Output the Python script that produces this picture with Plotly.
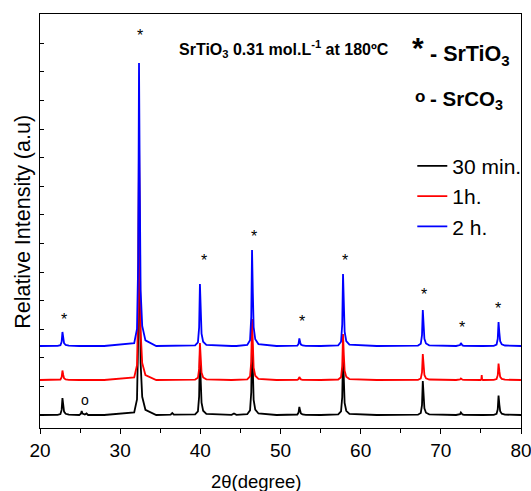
import plotly.graph_objects as go

# 2-theta sampling positions (degrees)
two_theta = [
    20.0, 21.0,
    22.2, 22.55, 22.7, 22.8, 22.9, 23.0, 23.2, 23.6,
    24.9, 25.1, 25.2, 25.3, 25.6, 25.8, 26.0,
    28.0,
    31.75, 32.1, 32.25, 32.35, 32.45, 32.55, 32.75, 33.15,
    34.5, 36.3, 36.5, 36.7,
    39.35, 39.7, 39.85, 39.95, 40.05, 40.15, 40.35, 40.75,
    43.9, 44.2, 44.5,
    45.85, 46.2, 46.35, 46.45, 46.55, 46.65, 46.85, 47.25,
    49.5,
    51.75, 52.1, 52.25, 52.35, 52.45, 52.55, 52.75, 53.15,
    55.0,
    57.2, 57.55, 57.7, 57.8, 57.9, 58.0, 58.2, 58.6,
    62.0,
    67.15, 67.5, 67.65, 67.75, 67.85, 67.95, 68.15, 68.55,
    71.9, 72.25, 72.4, 72.5, 72.6, 72.7, 72.9, 73.3,
    74.95, 75.05, 75.1, 75.15, 75.25,
    76.6, 76.95, 77.1, 77.2, 77.3, 77.4, 77.6, 78.0,
    80.0,
]

# intensities (a.u.), one list per sample
int_30min = [
    0, 0,
    2, 10, 51, 170, 94, 34, 12, 3,
    0, 12, 40, 15, 5, 15, 0,
    0,
    26, 156, 780, 2600, 1430, 520, 182, 52,
    0, 3, 20, 4,
    6, 37, 186, 620, 340, 124, 43, 12,
    2, 15, 2,
    8, 46, 228, 760, 418, 152, 53, 15,
    0,
    1, 5, 24, 80, 44, 16, 6, 2,
    0,
    6, 36, 180, 600, 330, 120, 42, 12,
    0,
    3, 20, 99, 340, 182, 66, 23, 7,
    0, 2, 8, 25, 14, 5, 2, 1,
    0, 0, 0, 0, 0,
    2, 11, 57, 195, 105, 38, 13, 4,
    0,
]
int_1h = [
    0, 0,
    1, 5, 27, 95, 50, 18, 6, 2,
    0, 0, 0, 0, 0, 0, 0,
    0,
    25, 147, 735, 2450, 1350, 490, 170, 49,
    0, 0, 0, 0,
    4, 22, 111, 370, 204, 74, 26, 7,
    0, 0, 0,
    6, 37, 183, 610, 335, 122, 43, 12,
    0,
    0, 2, 9, 30, 16, 6, 2, 1,
    0,
    5, 28, 138, 460, 253, 92, 32, 9,
    0,
    2, 15, 75, 260, 138, 50, 17, 5,
    0, 1, 5, 15, 8, 3, 1, 0,
    0, 5, 50, 5, 0,
    2, 10, 48, 165, 88, 32, 11, 3,
    0,
]
int_2h = [
    0, 0,
    1, 8, 42, 140, 77, 28, 10, 3,
    0, 0, 0, 0, 0, 0, 0,
    0,
    28, 170, 850, 2830, 1550, 560, 200, 56,
    0, 0, 0, 0,
    6, 37, 186, 620, 340, 124, 43, 12,
    0, 0, 0,
    10, 58, 290, 960, 530, 190, 67, 19,
    0,
    1, 4, 21, 75, 38, 14, 5, 1,
    0,
    7, 43, 216, 720, 400, 144, 50, 14,
    0,
    4, 22, 108, 360, 200, 72, 25, 7,
    0, 2, 9, 30, 16, 6, 2, 1,
    0, 0, 0, 0, 0,
    2, 14, 72, 240, 132, 48, 17, 5,
    0,
]

series_names = ["30 min.", "1h.", "2 h."]
series_offsets = [130, 480, 820]
series_colors = ["#000000", "#ff0000", "#0000ff"]

# peak markers
star_2theta = [22.96, 32.53, 40.5, 46.65, 52.68, 58.08, 67.93, 72.7, 77.16]
star_height = [1087, 3930, 1680, 1920, 1063, 1680, 1340, 1007, 1197]
srco3_2theta = [25.66]
srco3_height = [285]

FONT = "Liberation Sans, Arial, sans-serif"

fig = go.Figure()
for name, ys, off, col in zip(series_names, [int_30min, int_1h, int_2h],
                              series_offsets, series_colors):
    fig.add_trace(go.Scatter(
        x=two_theta, y=[v + off for v in ys], mode="lines", name=name,
        line=dict(color=col, width=1.8),
    ))

annotations = []
for xs, ys in zip(star_2theta, star_height):
    annotations.append(dict(x=xs, y=ys, xref="x", yref="y", text="*",
                            showarrow=False, font=dict(size=16, color="black", family=FONT)))
for xs, ys in zip(srco3_2theta, srco3_height):
    annotations.append(dict(x=xs, y=ys, xref="x", yref="y", text="o",
                            showarrow=False, font=dict(size=14, color="black", family=FONT)))

annotations += [
    dict(x=0.285, y=0.915, xref="paper", yref="paper", xanchor="left", yanchor="middle",
         text="<b>SrTiO<sub>3</sub> 0.31 mol.L<sup>-1</sup> at 180ºC</b>",
         showarrow=False, font=dict(size=16, color="black", family=FONT)),
    dict(x=0.786, y=0.92, xref="paper", yref="paper", xanchor="center", yanchor="middle",
         text="<b>*</b>", showarrow=False, font=dict(size=30, color="black", family=FONT)),
    dict(x=0.807, y=0.899, xref="paper", yref="paper", xanchor="left", yanchor="middle",
         text="<b>- SrTiO<sub>3</sub></b>", showarrow=False,
         font=dict(size=21.5, color="black", family=FONT)),
    dict(x=0.79, y=0.80, xref="paper", yref="paper", xanchor="center", yanchor="middle",
         text="<b>o</b>", showarrow=False, font=dict(size=17, color="black", family=FONT)),
    dict(x=0.807, y=0.792, xref="paper", yref="paper", xanchor="left", yanchor="middle",
         text="<b>- SrCO<sub>3</sub></b>", showarrow=False,
         font=dict(size=20.5, color="black", family=FONT)),
    dict(x=-0.0345, y=0.499, xref="paper", yref="paper", xanchor="center", yanchor="middle",
         textangle=-90, text="Relative Intensity (a.u)", showarrow=False,
         font=dict(size=21.5, color="black", family=FONT)),
    dict(x=0.4506, y=-0.129, xref="paper", yref="paper", xanchor="center", yanchor="middle",
         text="2θ(degree)", showarrow=False,
         font=dict(size=18.5, color="black", family=FONT)),
]

fig.update_layout(
    width=531, height=491,
    margin=dict(l=40, r=10, t=14, b=63, autoexpand=False),
    paper_bgcolor="white", plot_bgcolor="white",
    font=dict(family=FONT, color="black"),
    annotations=annotations,
    legend=dict(x=0.774, y=0.682, xanchor="left", yanchor="top",
                bgcolor="rgba(0,0,0,0)", font=dict(size=21, family=FONT),
                tracegroupgap=0, itemwidth=30),
    xaxis=dict(range=[20, 80], dtick=10, tick0=20, ticks="outside", ticklen=5,
               tickcolor="black", tickwidth=1, automargin=False,
               ticklabeloverflow="allow",
               minor=dict(dtick=5, ticks="outside", ticklen=4, tickcolor="black"),
               showgrid=False, zeroline=False, showline=True, linecolor="black",
               linewidth=1.2, mirror=True, tickfont=dict(size=19, family=FONT)),
    yaxis=dict(range=[0, 4140], tick0=130, dtick=286, ticks="inside", ticklen=4,
               tickcolor="black", showticklabels=False, showgrid=False,
               automargin=False,
               zeroline=False, showline=True, linecolor="black", linewidth=1.2,
               mirror=True),
)

# remove the default 8px page margin so the figure fills the window exactly
fig.write_html("out.html", config={"displayModeBar": False},
               post_script="document.body.style.margin='0';document.body.style.overflow='hidden';")
